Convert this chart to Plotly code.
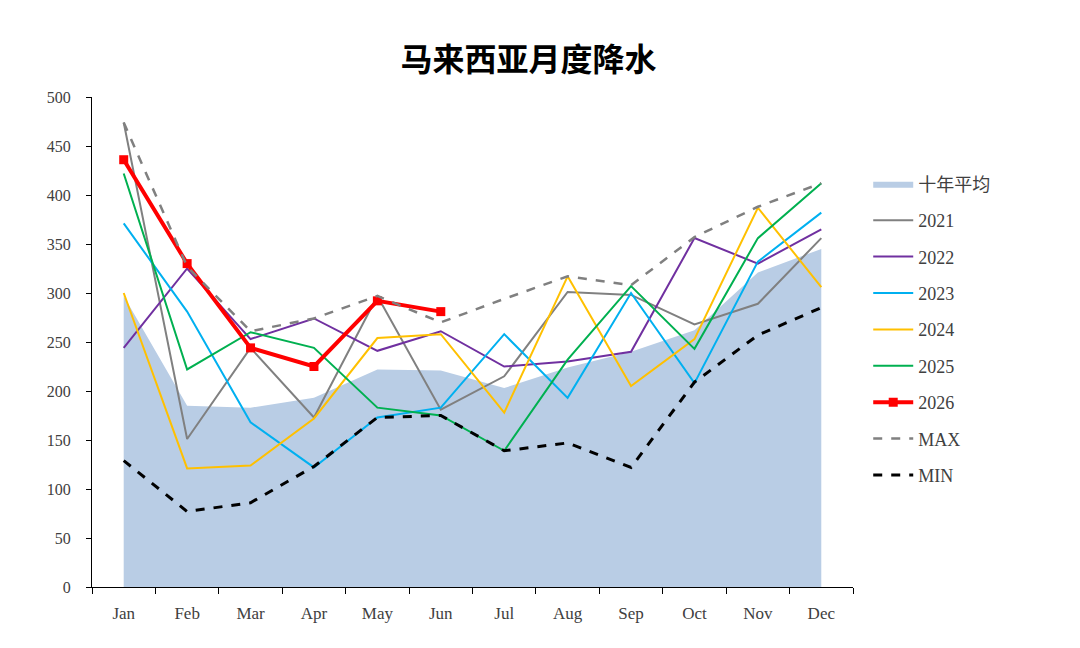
import plotly.graph_objects as go

months = ["Jan", "Feb", "Mar", "Apr", "May", "Jun", "Jul", "Aug", "Sep", "Oct", "Nov", "Dec"]

avg_10y = [297, 185, 183, 193, 222, 221, 203, 224, 240, 262, 321, 345]
y2021 = [474, 151, 244, 173, 297, 181, 215, 301, 298, 268, 289, 356]
y2022 = [244, 325, 253, 274, 241, 261, 225, 230, 240, 356, 330, 365]
y2023 = [371, 281, 168, 122, 173, 183, 258, 193, 300, 208, 332, 382]
y2024 = [300, 121, 124, 172, 254, 258, 178, 317, 205, 253, 387, 306]
y2025 = [422, 222, 260, 244, 183, 175, 139, 232, 307, 243, 356, 412]
y2026 = [436, 330, 244, 225, 292, 281]
max_vals = [474, 327, 261, 274, 297, 270, 294, 317, 308, 357, 388, 412]
min_vals = [129, 77, 86, 123, 173, 175, 139, 147, 122, 209, 257, 285]

y_ticks = list(range(0, 501, 50))

year_series = [
    ("2021", y2021, "#808080"),
    ("2022", y2022, "#7030A0"),
    ("2023", y2023, "#00B0F0"),
    ("2024", y2024, "#FFC000"),
    ("2025", y2025, "#00B050"),
]

fig = go.Figure()

fig.add_trace(go.Scatter(
    x=months, y=avg_10y, name="十年平均", mode="lines",
    fill="tozeroy", fillcolor="#B9CDE5", line=dict(color="#B9CDE5", width=0),
    legendgroup="avg"
))

for name, vals, color in year_series:
    fig.add_trace(go.Scatter(
        x=months, y=vals, name=name, mode="lines",
        line=dict(color=color, width=2), legendgroup=name
    ))

fig.add_trace(go.Scatter(
    x=months[:len(y2026)], y=y2026, name="2026", mode="lines+markers",
    line=dict(color="#FF0000", width=4),
    marker=dict(symbol="square", size=9, color="#FF0000"),
    legendgroup="2026"
))

fig.add_trace(go.Scatter(
    x=months, y=max_vals, name="MAX", mode="lines",
    line=dict(color="#808080", width=2.5, dash="dash"), legendgroup="max"
))

fig.add_trace(go.Scatter(
    x=months, y=min_vals, name="MIN", mode="lines",
    line=dict(color="#000000", width=3, dash="dash"), legendgroup="min"
))

# page body has an 8px margin, so shift everything up/left by 8
fig.update_layout(
    width=1080, height=648,
    paper_bgcolor="white", plot_bgcolor="white",
    margin=dict(l=84, r=235, t=89, b=69),
    title=dict(
        text="<b>马来西亚月度降水</b>", x=0.482, xanchor="center", y=0.92, yanchor="middle",
        font=dict(family="Noto Sans CJK SC", size=32, color="#000000")
    ),
    font=dict(family="Liberation Serif", size=16, color="#404040"),
    legend=dict(
        x=1.02, xanchor="left", y=0.86, yanchor="top",
        font=dict(family="Liberation Serif, Noto Sans CJK SC", size=18, color="#404040"),
        tracegroupgap=10, itemwidth=40
    ),
    showlegend=True,
)

fig.update_xaxes(
    type="category", range=[-0.5, 11.5],
    showline=True, linecolor="#000000", linewidth=1.3,
    ticks="outside", tickson="boundaries", ticklen=6, tickcolor="#000000",
    showgrid=False, tickfont=dict(size=17), ticklabelstandoff=10
)
fig.update_yaxes(
    range=[0, 500], tickvals=y_ticks,
    showline=True, linecolor="#000000", linewidth=1.3,
    ticks="outside", ticklen=5, tickcolor="#000000",
    showgrid=False, zeroline=False, tickfont=dict(size=16), ticklabelstandoff=12
)

fig.write_html("out.html")
